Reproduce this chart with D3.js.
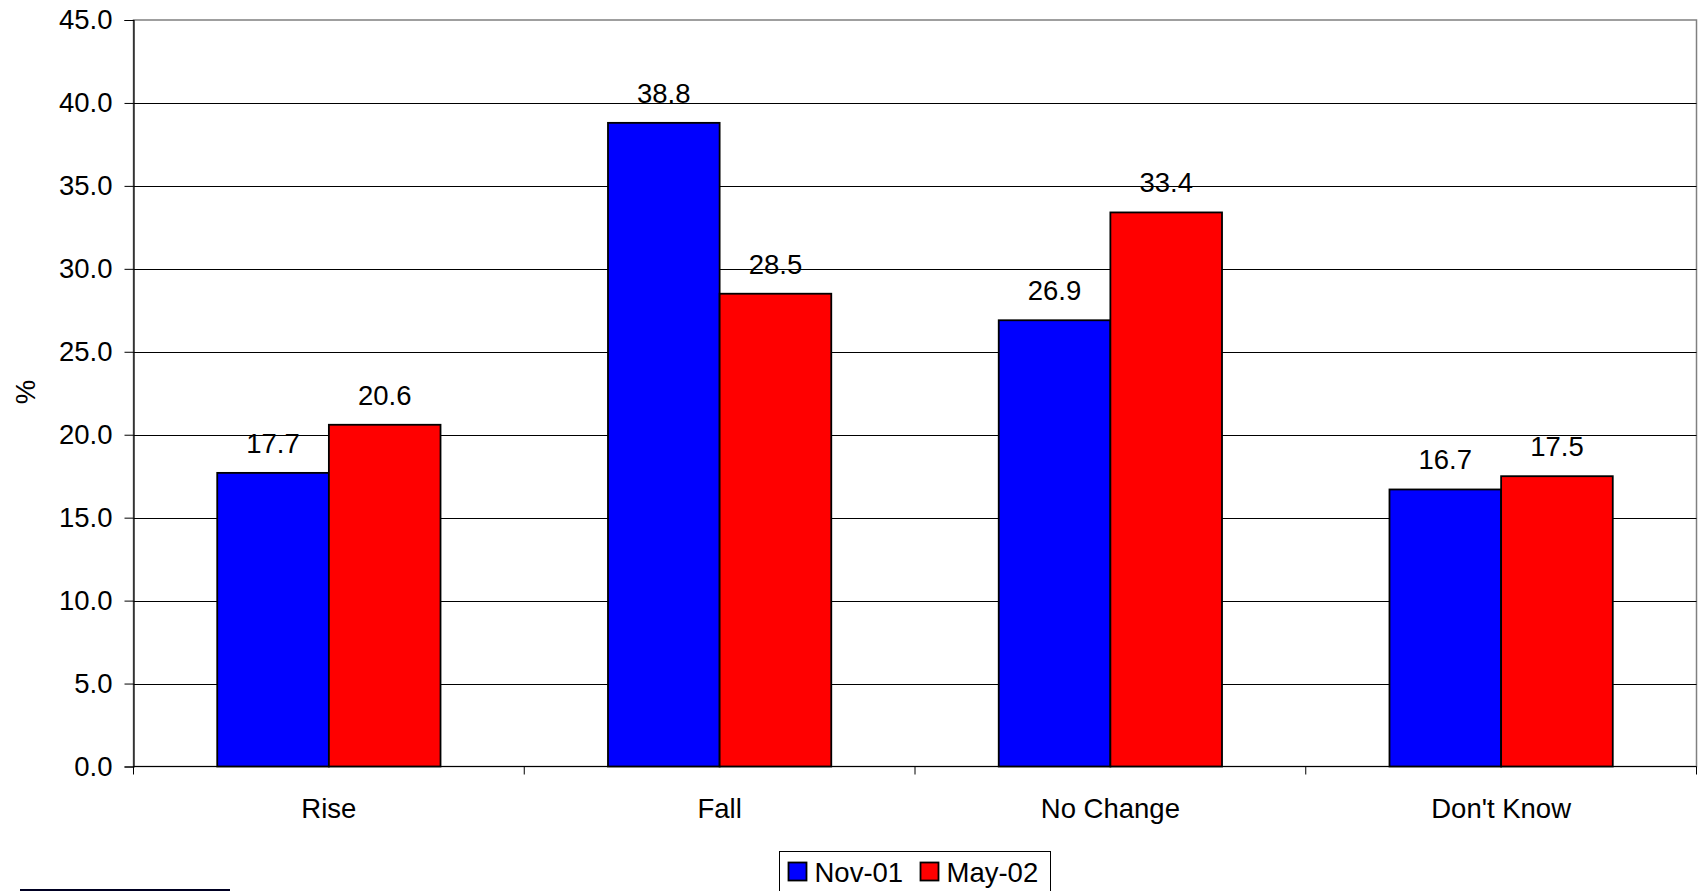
<!DOCTYPE html>
<html>
<head>
<meta charset="utf-8">
<script src="https://cdn.jsdelivr.net/npm/d3@7"></script>
<style>
  html, body { margin: 0; padding: 0; background: #fff; }
  svg { display: block; font-family: "Liberation Sans", Arial, sans-serif; }
</style>
</head>
<body>
<svg id="chart" width="1698" height="891"></svg>
<script>
// Survey responses: expected change, two survey rounds
const categories = ["Rise", "Fall", "No Change", "Don't Know"];
const seriesNames = ["Nov-01", "May-02"];
const nov01 = [17.7, 38.8, 26.9, 16.7];
const may02 = [20.6, 28.5, 33.4, 17.5];
const seriesColors = ["#0000ff", "#ff0000"];
const yTicks = [0, 5, 10, 15, 20, 25, 30, 35, 40, 45];

const FS = 27.5;
const svg = d3.select("#chart");
const W = 1698, H = 891;
const margin = { left: 133.5, right: 1.5, top: 20, bottom: 124.5 };
const plotW = W - margin.left - margin.right;
const plotH = H - margin.top - margin.bottom;

const g = svg.append("g").attr("transform", `translate(${margin.left},${margin.top})`);

const x0 = d3.scaleBand().domain(categories).range([0, plotW]).paddingInner(0).paddingOuter(0);
// gap width of 150%: two bars + 1.5 bar widths per category
const barW = x0.bandwidth() / 3.5;
const x1 = d3.scaleBand().domain(seriesNames)
  .range([barW * 0.75, barW * 0.75 + barW * 2]).padding(0);
const y = d3.scaleLinear().domain([0, 45]).range([plotH, 0]);

// plot area border (gray)
g.append("rect").attr("x", 0).attr("y", 0).attr("width", plotW).attr("height", plotH)
  .attr("fill", "none").attr("stroke", "#808080").attr("stroke-width", 1.5);

// horizontal gridlines
g.append("g").selectAll("line").data(yTicks.filter(t => t > 0 && t < 45)).join("line")
  .attr("x1", 0).attr("x2", plotW)
  .attr("y1", d => Math.round(y(d)) + 0.5).attr("y2", d => Math.round(y(d)) + 0.5)
  .attr("stroke", "#000").attr("stroke-width", 1);

// y axis
const yAxis = d3.axisLeft(y).tickValues(yTicks).tickFormat(d3.format(".1f")).tickSize(9).tickPadding(12);
const yG = g.append("g").call(yAxis);
yG.select(".domain").attr("stroke", "#000").attr("stroke-width", 1.2);
yG.selectAll(".tick line").attr("stroke", "#000");
yG.selectAll(".tick text").attr("font-size", FS).attr("fill", "#000")
  .attr("font-family", "'Liberation Sans', Arial, sans-serif");

// x axis: ticks at category boundaries
const xAxisG = g.append("g").attr("transform", `translate(0,${plotH})`);
xAxisG.append("line").attr("x1", 0).attr("x2", plotW).attr("y1", 0).attr("y2", 0)
  .attr("stroke", "#000").attr("stroke-width", 1.2);
const boundaries = d3.range(categories.length + 1).map(i => i * x0.step());
xAxisG.selectAll("line.tk").data(boundaries).join("line").attr("class", "tk")
  .attr("x1", d => d).attr("x2", d => d).attr("y1", 0).attr("y2", 8)
  .attr("stroke", "#000");
xAxisG.selectAll("text").data(categories).join("text")
  .attr("x", d => x0(d) + x0.bandwidth() / 2).attr("y", 51)
  .attr("text-anchor", "middle").attr("font-size", FS).attr("fill", "#000")
  .text(d => d);

// y axis title
svg.append("text").attr("transform", "translate(35,392) rotate(-90)")
  .attr("text-anchor", "middle").attr("font-size", FS).attr("fill", "#000").text("%");

// bars
const rows = categories.map((c, i) => ({ cat: c, values: [nov01[i], may02[i]] }));
const groups = g.append("g").selectAll("g").data(rows).join("g")
  .attr("transform", d => `translate(${x0(d.cat)},0)`);
groups.selectAll("rect").data(d => d.values.map((v, j) => ({ name: seriesNames[j], v, j }))).join("rect")
  .attr("x", d => x1(d.name)).attr("width", x1.bandwidth())
  .attr("y", d => y(d.v)).attr("height", d => plotH - y(d.v))
  .attr("fill", d => seriesColors[d.j]).attr("stroke", "#000").attr("stroke-width", 1.8);
groups.selectAll("text").data(d => d.values.map((v, j) => ({ name: seriesNames[j], v, j }))).join("text")
  .attr("x", d => x1(d.name) + x1.bandwidth() / 2).attr("y", d => y(d.v) - 20)
  .attr("text-anchor", "middle").attr("font-size", FS).attr("fill", "#000")
  .text(d => d3.format(".1f")(d.v));

// legend
const leg = svg.append("g").attr("transform", "translate(779.5,851.5)");
leg.append("rect").attr("width", 271).attr("height", 42).attr("fill", "#fff")
  .attr("stroke", "#000").attr("stroke-width", 1);
const items = leg.selectAll("g").data(seriesNames).join("g")
  .attr("transform", (d, i) => `translate(${i === 0 ? 9 : 141},11)`);
items.append("rect").attr("width", 18).attr("height", 18)
  .attr("fill", (d, i) => seriesColors[i]).attr("stroke", "#000").attr("stroke-width", 1.8);
items.append("text").attr("x", 26).attr("y", 19).attr("font-size", FS).attr("fill", "#000").text(d => d);

// footnote rule
svg.append("line").attr("x1", 20).attr("x2", 230).attr("y1", 890).attr("y2", 890)
  .attr("stroke", "#000022").attr("stroke-width", 2);
</script>
</body>
</html>
